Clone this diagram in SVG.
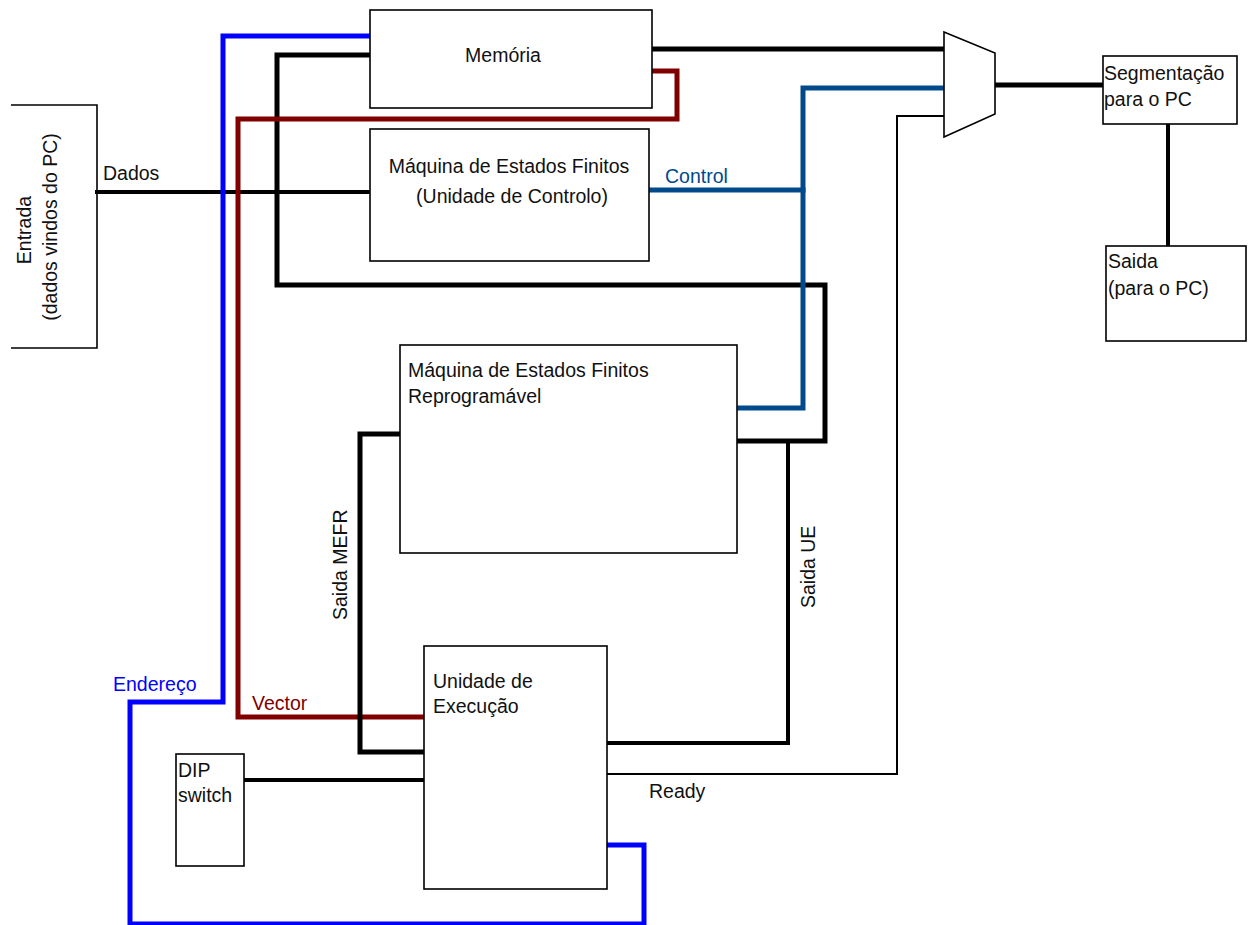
<svg xmlns="http://www.w3.org/2000/svg" width="1248" height="925" viewBox="0 0 1248 925">
<style>
.box{fill:#fff;stroke:#000;stroke-width:1.6}
.t{font-family:"Liberation Sans",Arial,sans-serif;font-size:19.5px;fill:#111}
.w{fill:none;stroke-linejoin:miter;stroke-linecap:square}
.blk{stroke:#000;stroke-width:5}
.blk4{stroke:#000;stroke-width:4}
.thin{stroke:#000;stroke-width:2}
.blue{stroke:#0000FF;stroke-width:5}
.dblue{stroke:#004A8C;stroke-width:5}
.red{stroke:#800000;stroke-width:5}
</style>
<rect width="1248" height="925" fill="#fff"/>
<g id="connectors">
  <!-- Dados -->
  <path class="w blk4" d="M97 192 H370"/>
  <!-- Endereço (blue) -->
  <path class="w blue" d="M370 36 H223 V702 H130 V924 H644 V845 H607"/>
  <!-- black bus from Memória -->
  <path class="w blk" d="M370 55 H277 V285 H825 V441 H737"/>
  <!-- Vector (red) -->
  <path class="w red" d="M650 71 H677 V119 H238 V717 H425"/>
  <!-- Memória to mux -->
  <path class="w blk" d="M652 49 H944"/>
  <!-- Control -->
  <path class="w dblue" d="M649 190 H803"/>
  <path class="w dblue" d="M944 88 H803 V408 H737"/>
  <!-- mux output -->
  <path class="w blk" d="M995 85 H1103"/>
  <!-- Segmentação to Saida -->
  <path class="w blk4" d="M1168 124 V246"/>
  <!-- Ready -->
  <path class="w thin" d="M607 774 H897 V116 H944"/>
  <!-- Saida MEFR -->
  <path class="w blk" d="M400 434 H360 V752 H425"/>
  <!-- Saida UE -->
  <path class="w blk4" d="M788 441 V743 H607"/>
  <!-- DIP switch -->
  <path class="w blk4" d="M244 780 H425"/>
</g>
<g id="entrada">
  <path d="M11 105 H97 V348 H11" fill="none" stroke="#000" stroke-width="1.6"/>
  <text class="t" text-anchor="middle" transform="translate(31,230) rotate(-90)">Entrada</text>
  <text class="t" text-anchor="middle" transform="translate(57,227) rotate(-90)">(dados vindos do PC)</text>
</g>
<g id="memoria">
  <rect class="box" x="370" y="10" width="282" height="98"/>
  <text class="t" x="503" y="62" text-anchor="middle">Memória</text>
</g>
<g id="fsm-controlo">
  <rect class="box" x="370" y="129" width="279" height="132"/>
  <text class="t" x="509" y="173" text-anchor="middle">Máquina de Estados Finitos</text>
  <text class="t" x="512" y="203" text-anchor="middle">(Unidade de Controlo)</text>
</g>
<g id="mux">
  <polygon points="944,32 995,53 995,114 944,137" fill="#fff" stroke="#000" stroke-width="1.6"/>
</g>
<g id="segmentacao">
  <rect class="box" x="1103" y="56" width="134" height="68"/>
  <text class="t" x="1104" y="80">Segmentação</text>
  <text class="t" x="1104" y="106">para o PC</text>
</g>
<g id="saida">
  <rect class="box" x="1106" y="246" width="140" height="95"/>
  <text class="t" x="1108" y="268">Saida</text>
  <text class="t" x="1108" y="295">(para o PC)</text>
</g>
<g id="fsm-reprog">
  <rect class="box" x="400" y="345" width="337" height="208"/>
  <text class="t" x="408" y="377">Máquina de Estados Finitos</text>
  <text class="t" x="408" y="403">Reprogramável</text>
</g>
<g id="ue">
  <rect class="box" x="424" y="646" width="183" height="243"/>
  <text class="t" x="433" y="688">Unidade de</text>
  <text class="t" x="433" y="713">Execução</text>
</g>
<g id="dip">
  <rect class="box" x="176" y="754" width="68" height="112"/>
  <text class="t" x="178" y="777">DIP</text>
  <text class="t" x="178" y="802">switch</text>
</g>
<g id="labels">
  <text class="t" x="103" y="180">Dados</text>
  <text class="t" x="665" y="183" fill="#004A8C" style="fill:#004A8C">Control</text>
  <text class="t" x="113" y="691" style="fill:#0000FF">Endereço</text>
  <text class="t" x="252" y="710" style="fill:#800000">Vector</text>
  <text class="t" x="649" y="798">Ready</text>
  <text class="t" transform="translate(347,620) rotate(-90)">Saida MEFR</text>
  <text class="t" transform="translate(815,608) rotate(-90)">Saida UE</text>
</g>
</svg>
